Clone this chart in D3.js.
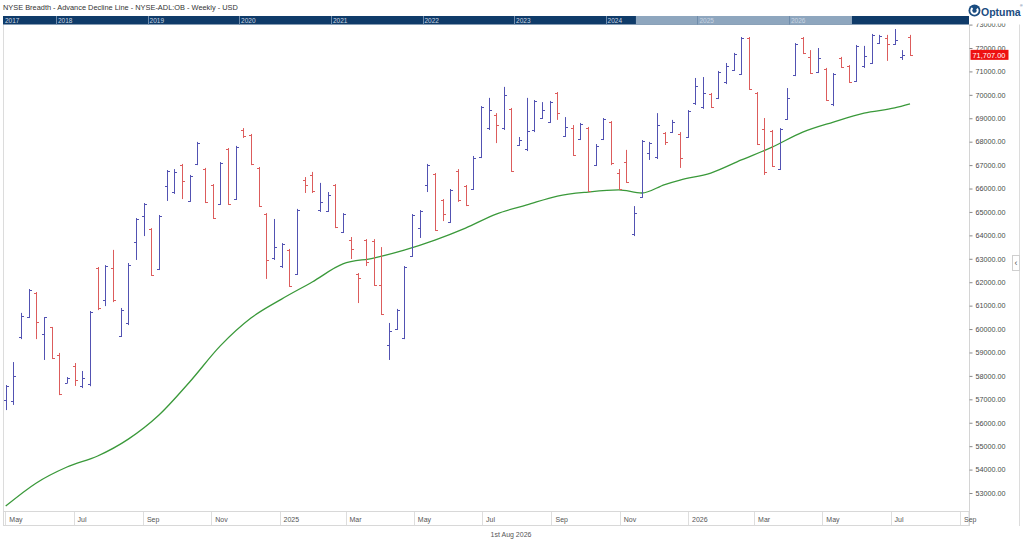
<!DOCTYPE html>
<html>
<head>
<meta charset="utf-8">
<script src="https://cdn.jsdelivr.net/npm/d3@7"></script>
<style>
html, body { margin: 0; padding: 0; background: #fff; overflow: hidden; }
svg { display: block; font-family: "Liberation Sans", Arial, sans-serif; }
</style>
</head>
<body>
<svg id="chart" width="1024" height="546"></svg>
<script>
// ---- data ----
const opens = [56970,56930,59660,60500,61560,59790,60080,58890,57700,58420,57570,57650,62610,61240,62610,59700,60260,63720,64830,64270,
  62560,66110,65850,67010,65470,67050,66830,66150,65340,67690,65550,68500,68290,66880,64910,63030,62690,63380,62350,66360,
  66580,65080,65040,66150,64140,63800,62350,63800,63760,61880,59320,60000,59620,63120,64310,66150,66620,65510,64570,66750,
  66110,65980,67340,68580,69140,68580,69400,67860,67690,68500,69010,68840,70080,68240,68580,68110,68580,67000,68110,68840,
  66660,67130,64060,65640,67520,67340,68370,68410,68330,68200,69650,69480,70040,69870,70550,71060,70890,72430,70080,68540,
  68460,66830,68970,70850,72430,71620,70980,71100,69610,71570,71230,70590,71230,71360,72210,72430,72170,71620,72470];
const highs = [57610,58590,60690,61710,61580,60510,60090,58980,57950,58550,58210,60770,62650,62730,63380,60900,62820,64740,65380,64310,
  64870,66790,66830,67050,66580,67990,66880,66190,67130,67730,67820,68580,68330,66920,64950,64700,63670,63420,65130,66490,
  66710,66240,65850,66190,64950,63930,62390,63840,63840,63500,60260,60860,62690,64910,65080,67050,66660,65550,65980,66830,
  66150,67390,69520,69870,69220,70340,69440,68200,69870,69780,69690,69740,70120,69050,68710,68800,68630,67900,69010,68880,
  66830,67650,65250,68070,67990,69220,68410,68930,68410,69350,70720,70760,70080,71020,71360,71790,72470,72470,70120,69010,
  68500,68580,70290,72210,72470,71910,72000,71150,70930,71620,71270,72130,72090,72600,72560,72560,72810,71910,72560];
const lows = [56540,56760,59570,60470,59570,58680,58720,57180,57690,57570,57480,57560,60810,60980,61150,59660,60170,62950,63970,62270,
  62520,65470,65770,65550,65430,67000,65380,64700,65300,65300,65510,68160,67000,65210,62140,62950,62610,61800,62310,65810,
  65810,65000,65000,64310,64100,62990,61110,62690,61840,60600,58680,59960,59570,63080,63890,65850,64190,64610,64530,65430,
  65250,65940,67300,68500,67940,68500,66710,67820,67600,68410,68970,68800,68930,68200,67390,68070,65850,66960,68070,67000,
  65940,66240,63970,65600,67220,67260,67860,68370,66880,68160,69570,69400,69440,69820,70460,71020,70850,70210,67860,66580,
  66920,66790,68930,70800,71740,70890,70930,69740,69520,71150,70510,70550,71150,71320,72170,71450,72130,71490,71660];
const closes = [57570,58000,60560,61670,60300,60500,58760,57230,57910,57820,57910,60730,60900,62690,61240,60810,62730,64700,65340,62310,
  64830,66750,66710,66320,66530,67940,65430,64740,67090,65340,67770,68240,67050,65250,62950,63500,63630,61840,65080,66150,
  65890,65430,65720,64350,64910,63420,62180,62860,61880,60640,59920,60810,62650,64870,65040,67000,64230,64910,65940,65510,
  65300,67300,69480,69350,68710,69990,66750,68070,68460,69740,69350,69690,69220,68630,67430,68760,65890,67820,68970,67090,
  65980,66280,64950,68030,67940,68710,67990,68840,67300,69310,70380,70080,69480,70980,71230,71740,72430,70250,67900,66710,
  66960,68540,69870,72170,71790,70930,71570,69780,70890,71190,70550,72090,71660,72560,72510,72170,72340,71700,71707];

// moving average, read at a bar every few weeks
const maBars   = [0,4,8,12,16,20,24,28,32,36,40,44,48,52,56,60,64,68,72,76,80,83,86,88,92,96,100,104,108,112,116,118];
const maValues = [52440,53430,54110,54580,55300,56330,57740,59280,60470,61280,62010,62780,63030,63370,63800,64310,64910,65300,65680,65850,
  65940,65810,66170,66360,66660,67220,67770,68410,68840,69220,69440,69610];

// axis ticks and labels
const monthTicks  = ["2024-05-01","2024-07-01","2024-09-01","2024-11-01","2025-01-01","2025-03-01","2025-05-01","2025-07-01",
  "2025-09-01","2025-11-01","2026-01-01","2026-03-01","2026-05-01","2026-07-01","2026-09-01"];
const monthLabels = ["May","Jul","Sep","Nov","2025","Mar","May","Jul","Sep","Nov","2026","Mar","May","Jul","Sep"];
const priceTicks  = [53000,54000,55000,56000,57000,58000,59000,60000,61000,62000,63000,64000,65000,66000,67000,68000,69000,70000,71000,72000,73000];
const navYears    = [2017,2018,2019,2020,2021,2022,2023,2024,2025,2026];
const lastPrice   = 71707;

const BLUE = "#5252b2", RED = "#dc5c5c", GREEN = "#3a993a";
const plot = { left: 3, right: 969, top: 24.5, bottom: 511 };
const parse = d3.timeParse("%Y-%m-%d");

const svg = d3.select("#chart");

const x = d3.scaleLinear().domain([0, closes.length - 1]).range([5.7, 910]);
const xTime = d3.scaleTime().domain([parse("2024-05-01"), parse("2026-09-01")]).range([5.3, 960]);
const y = d3.scaleLinear().domain([53000, 72000]).range([493, 48]);

svg.append("defs").append("clipPath").attr("id", "plotclip")
  .append("rect").attr("x", plot.left).attr("y", plot.top)
  .attr("width", plot.right - plot.left).attr("height", plot.bottom - plot.top);

// frame
svg.append("line").attr("x1", 3.5).attr("x2", 3.5).attr("y1", plot.top).attr("y2", 526)
  .attr("stroke", "#dcdcdc");
svg.append("line").attr("x1", plot.right + 0.5).attr("x2", plot.right + 0.5).attr("y1", plot.top).attr("y2", 526)
  .attr("stroke", "#d4d4d4");
svg.append("line").attr("x1", 1019.5).attr("x2", 1019.5).attr("y1", plot.top).attr("y2", 526)
  .attr("stroke", "#dcdcdc");

const plotG = svg.append("g").attr("clip-path", "url(#plotclip)");

// moving average
const maLine = d3.line()
  .x((d, i) => x(maBars[i]))
  .y(d => y(d))
  .curve(d3.curveMonotoneX);
plotG.append("path").datum(maValues)
  .attr("d", maLine)
  .attr("fill", "none")
  .attr("stroke", GREEN)
  .attr("stroke-width", 1.3);

// OHLC bars
const bars = plotG.selectAll(".bar").data(closes).enter().append("g")
  .attr("class", "bar")
  .attr("stroke", (c, i) => c >= opens[i] ? BLUE : RED)
  .attr("stroke-width", 1);
const px = i => Math.round(x(i)) + 0.5;
bars.append("line").attr("x1", (c, i) => px(i)).attr("x2", (c, i) => px(i))
  .attr("y1", (c, i) => y(highs[i])).attr("y2", (c, i) => y(lows[i]));
bars.append("line").attr("x1", (c, i) => px(i) - 2.5).attr("x2", (c, i) => px(i))
  .attr("y1", (c, i) => Math.round(y(opens[i])) + 0.5).attr("y2", (c, i) => Math.round(y(opens[i])) + 0.5);
bars.append("line").attr("x1", (c, i) => px(i)).attr("x2", (c, i) => px(i) + 2.5)
  .attr("y1", (c, i) => Math.round(y(c)) + 0.5).attr("y2", (c, i) => Math.round(y(c)) + 0.5);

// price axis
const yAxis = d3.axisRight(y).tickValues(priceTicks).tickSize(3).tickPadding(3).tickFormat(d3.format(".2f"));
const yG = svg.append("g").attr("transform", `translate(${plot.right + 0.5},0)`).call(yAxis);
yG.select(".domain").remove();
yG.selectAll(".tick line").attr("stroke", "#888");
yG.selectAll(".tick text").attr("fill", "#4a4a4a").attr("font-size", 7.2)
  .attr("font-family", "'Liberation Sans', Arial, sans-serif");

// last price tag
const ly = y(lastPrice);
svg.append("rect").attr("x", plot.right + 1.5).attr("y", ly - 5).attr("width", 38).attr("height", 10).attr("fill", "#ee1111");
svg.append("text").attr("x", plot.right + 3.5).attr("y", ly + 3).attr("fill", "#fff")
  .attr("font-size", 7.4).text(d3.format(",.2f")(lastPrice));

// time axis band
const axG = svg.append("g");
axG.append("rect").attr("x", 3.5).attr("y", 511.5).attr("width", plot.right - 3.5).attr("height", 14)
  .attr("fill", "#fff").attr("stroke", "#d8d8d8");
axG.selectAll(".mt").data(monthTicks).enter().append("line")
  .attr("x1", d => Math.round(xTime(parse(d))) + 0.5).attr("x2", d => Math.round(xTime(parse(d))) + 0.5)
  .attr("y1", 512).attr("y2", 525).attr("stroke", "#dedede");
axG.selectAll(".ml").data(monthTicks).enter().append("text")
  .attr("x", d => xTime(parse(d)) + 4).attr("y", 521.5)
  .attr("font-size", 7).attr("fill", "#555")
  .text((d, i) => monthLabels[i]);

svg.append("text").attr("x", 511).attr("y", 537).attr("text-anchor", "middle")
  .attr("font-size", 7).attr("fill", "#555").text("1st Aug 2026");

// header: title, navigator, logo
svg.append("rect").attr("x", 0).attr("y", 0).attr("width", 1024).attr("height", 16).attr("fill", "#fff");
svg.append("rect").attr("x", plot.right + 1).attr("y", 0).attr("width", 55).attr("height", 23.5).attr("fill", "#fff");
svg.append("text").attr("x", 3).attr("y", 10).attr("font-size", 7.4).attr("fill", "#333")
  .text("NYSE Breadth - Advance Decline Line - NYSE-ADL:OB - Weekly - USD");

const nav = d3.scaleTime().domain([new Date(2018, 0, 1), new Date(2026, 0, 1)]).range([56, 789]);
const navG = svg.append("g");
navG.append("rect").attr("x", 3).attr("y", 16).attr("width", plot.right - 3).attr("height", 8.5).attr("fill", "#0f3b69");
const w0 = nav(xTime.invert(plot.left + 2)), w1 = nav(xTime.invert(plot.right));
navG.append("rect").attr("x", w0).attr("y", 16).attr("width", w1 - w0).attr("height", 8.5).attr("fill", "#8ea6be");
navG.selectAll(".ny").data(navYears.slice(1)).enter().append("line")
  .attr("x1", d => Math.round(nav(new Date(d, 0, 1))) + 0.5).attr("x2", d => Math.round(nav(new Date(d, 0, 1))) + 0.5)
  .attr("y1", 16).attr("y2", 24.5).attr("stroke", "#6f8cab");
navG.selectAll(".nt").data(navYears).enter().append("text")
  .attr("x", d => Math.max(nav(new Date(d, 0, 1)), 3) + 2).attr("y", 23)
  .attr("font-size", 6.5).attr("fill", "#c9d5e2").text(d => d);

const logo = svg.append("g").attr("transform", "translate(974.5,10.5)");
logo.append("circle").attr("r", 6).attr("fill", "#1a4c80");
logo.append("path").attr("d", d3.arc()({ innerRadius: 2.2, outerRadius: 4.2, startAngle: 0.9, endAngle: 5.6 }))
  .attr("fill", "#fff");
svg.append("text").attr("x", 981).attr("y", 15.5).attr("font-size", 10.5).attr("font-weight", 600)
  .attr("fill", "#1b4d82").text("Optuma");
svg.append("text").attr("x", 1020).attr("y", 7).attr("font-size", 3.5).attr("fill", "#1b4d82").text("®");

// side collapse button
svg.append("rect").attr("x", 1012.5).attr("y", 255.5).attr("width", 7).attr("height", 15)
  .attr("fill", "#fff").attr("stroke", "#cfcfcf");
svg.append("text").attr("x", 1016).attr("y", 266).attr("text-anchor", "middle")
  .attr("font-size", 9).attr("fill", "#555").text("‹");
</script>
</body>
</html>
